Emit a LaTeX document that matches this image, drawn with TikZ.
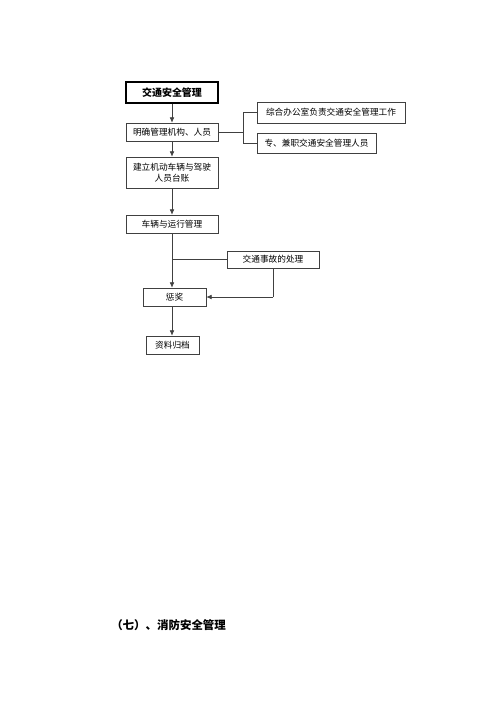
\documentclass[tikz,border=0pt]{standalone}
\usepackage{fontspec}
\setmainfont{Noto Sans CJK SC}
\usetikzlibrary{arrows.meta}
\begin{document}
\begin{tikzpicture}[x=0.75pt,y=-0.75pt,
  boxs/.style={draw=black!75,line width=0.5pt,inner sep=0pt,align=center,font=\fontsize{6.5pt}{8.5pt}\selectfont},
  titlebox/.style={draw=black,line width=1.1pt,inner sep=0pt,font=\fontsize{7.5pt}{9pt}\selectfont\bfseries},
  conn/.style={draw=black!75,line width=0.5pt},
  arr/.style={conn,-{Latex[length=4pt,width=3.5pt]}}]
\useasboundingbox[fill=white] (0,0) rectangle (500,708);
\node[titlebox,minimum width=69pt,minimum height=15.75pt] (b1) at (172,92.5) {交通安全管理};
\node[boxs,minimum width=69pt,minimum height=13.5pt] (b2) at (172,132) {明确管理机构、人员};
\node[boxs,minimum width=69pt,minimum height=23.25pt] (b3) at (172,172.5) {建立机动车辆与驾驶\\人员台账};
\node[boxs,minimum width=69pt,minimum height=13.5pt] (b4) at (172,224) {车辆与运行管理};
\node[boxs,minimum width=111pt,minimum height=15.75pt] (r1) at (331,112.5) {综合办公室负责交通安全管理工作};
\node[boxs,minimum width=89.25pt,minimum height=15pt] (r2) at (316.5,143) {专、兼职交通安全管理人员};
\node[boxs,minimum width=69pt,minimum height=12.75pt] (acc) at (273,259.5) {交通事故的处理};
\node[boxs,minimum width=47.25pt,minimum height=13.5pt] (cj) at (174.5,297) {惩奖};
\node[boxs,minimum width=39.75pt,minimum height=13.5pt] (zl) at (172.5,345) {资料归档};
\node[anchor=west,inner sep=0pt,font=\fontsize{8.6pt}{10pt}\selectfont\bfseries] (h7) at (111,625) {（七）、消防安全管理};
\coordinate (br) at (243,132);
\coordinate (brt) at (243,112.5);
\coordinate (brb) at (243,143);
\coordinate (accc) at (273,297);
\draw[arr] (b1.south) -- (b2.north);
\draw[arr] (b2.south) -- (b3.north);
\draw[arr] (b3.south) -- (b4.north);
\draw[arr] (b4.south) -- (b4.south |- cj.north);
\draw[arr] (b4.south |- cj.south) -- (zl.north -| b4.south);
\draw[conn] (b2.east) -- (br);
\draw[conn] (brt) -- (brb);
\draw[conn] (brt) -- (r1.west);
\draw[conn] (brb) -- (r2.west);
\draw[conn] (acc.west) -- (acc.west -| b4.south);
\draw[conn] (acc.south) -- (accc);
\draw[arr] (accc) -- (cj.east);
\end{tikzpicture}
\end{document}
